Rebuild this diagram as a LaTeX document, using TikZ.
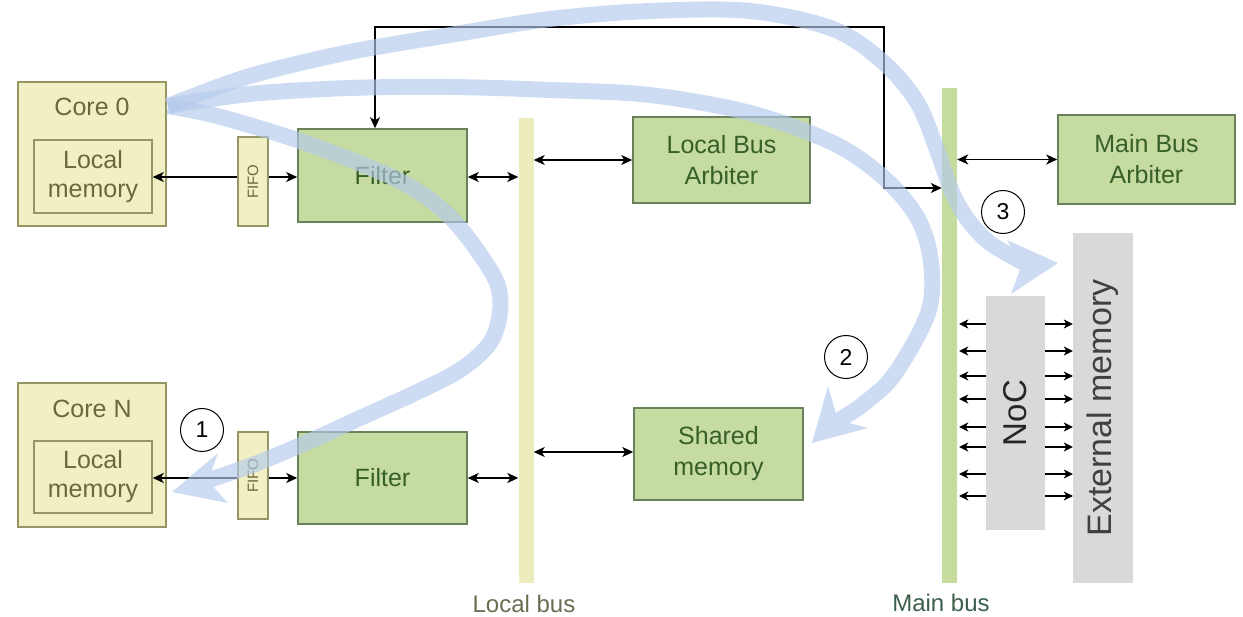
\documentclass[tikz,border=0pt]{standalone}
\usepackage{fontspec}
\setmainfont{Liberation Sans}
\usetikzlibrary{arrows.meta,calc}
\definecolor{corefill}{RGB}{240,240,196}
\definecolor{coreborder}{RGB}{150,150,100}
\definecolor{coretext}{RGB}{105,105,60}
\definecolor{greenfill}{RGB}{198,219,161}
\definecolor{greenborder}{RGB}{105,130,90}
\definecolor{greentext}{RGB}{55,95,40}
\definecolor{lbusfill}{RGB}{236,236,188}
\definecolor{mbusfill}{RGB}{198,219,158}
\definecolor{grayfill}{RGB}{217,217,217}
\definecolor{flowblue}{RGB}{180,202,236}
\definecolor{lbuslabel}{RGB}{105,110,80}
\definecolor{mbuslabel}{RGB}{60,95,75}
\begin{document}
\begin{tikzpicture}[x=1pt,y=-1pt,
  corebox/.style={draw=coreborder,fill=corefill,line width=1.5pt,inner sep=0pt},
  coretxt/.style={text=coretext,font=\fontsize{25}{29}\selectfont,align=center,inner sep=0pt},
  greenbox/.style={draw=greenborder,fill=greenfill,line width=1.5pt,inner sep=0pt,align=center,text=greentext,font=\fontsize{25}{31}\selectfont},
  fifobox/.style={draw=coreborder,fill=corefill,line width=1.3pt,inner sep=0pt,minimum width=30pt},
  busbar/.style={inner sep=0pt,minimum width=15pt},
  graybox/.style={fill=grayfill,inner sep=0pt},
  tipS/.tip={Stealth[length=11pt,width=10pt,inset=3pt]},
  arr/.style={line width=1.4pt,-tipS},
  biarr/.style={line width=1.4pt,tipS-tipS},
  smallarr/.style={line width=1.2pt,-{Stealth[length=9pt,width=9pt,inset=2.5pt]}},
  flow/.style={line width=16pt,draw=flowblue,line cap=butt},
  flowtip/.style={fill=flowblue},
  numcirc/.style={circle,draw,line width=1pt,minimum size=43pt,inner sep=0pt,font=\fontsize{23}{23}\selectfont},
  buslabel/.style={inner sep=0pt,font=\fontsize{24}{28}\selectfont}
]
\useasboundingbox (0,0) rectangle (1243,617);

% buses
\node[busbar,fill=lbusfill,minimum height=465pt] (lbus) at (526,350.5) {};
\node[busbar,fill=mbusfill,minimum height=495pt] (mbus) at (949.5,335.5) {};
\node[buslabel,text=lbuslabel] (lbuslbl) at (524,604) {Local bus};
\node[buslabel,text=mbuslabel] (mbuslbl) at (941,603) {Main bus};

% cores
\node[corebox,minimum width=148pt,minimum height=144pt] (core0) at (92,154) {};
\node[coretxt] (core0lbl) at (92,107) {Core 0};
\node[corebox,coretxt,minimum width=118pt,minimum height=73pt] (mem0) at (93,176.5) {Local\\memory};
\node[corebox,minimum width=148pt,minimum height=144pt] (coreN) at (92,455) {};
\node[coretxt] (coreNlbl) at (92,409) {Core N};
\node[corebox,coretxt,minimum width=118pt,minimum height=72pt] (memN) at (93,477) {Local\\memory};

% FIFOs
\node[fifobox,minimum height=89pt] (fifo0) at (253,181.5) {};
\node[rotate=90,text=coretext,font=\fontsize{15}{15}\selectfont,inner sep=0pt] at (fifo0.center) {FIFO};
\node[fifobox,minimum height=87pt] (fifoN) at (253,475.5) {};
\node[rotate=90,text=coretext,font=\fontsize{15}{15}\selectfont,inner sep=0pt] at (fifoN.center) {FIFO};

% green boxes
\node[greenbox,minimum width=169pt,minimum height=93pt] (filter0) at (382.5,175.5) {Filter};
\node[greenbox,minimum width=169pt,minimum height=92pt] (filterN) at (382.5,478) {Filter};
\node[greenbox,minimum width=177pt,minimum height=86pt] (lba) at (721.5,160) {Local Bus\\Arbiter};
\node[greenbox,minimum width=169pt,minimum height=92pt] (shmem) at (718.5,454) {Shared\\memory};
\node[greenbox,minimum width=177pt,minimum height=89pt] (mba) at (1146.5,159.5) {Main Bus\\Arbiter};

% gray boxes
\node[graybox,minimum width=59pt,minimum height=234pt] (noc) at (1015.5,413) {};
\node[rotate=90,font=\fontsize{33}{33}\selectfont,text=black!85,inner sep=0pt] at (noc.center) {NoC};
\node[graybox,minimum width=60pt,minimum height=350pt] (ext) at (1103,408) {};
\node[rotate=90,font=\fontsize{34}{34}\selectfont,text=black!75,inner sep=0pt] at (ext.center) {External memory};

% circles
\node[numcirc] (n1) at (202,430) {1};
\node[numcirc] (n2) at (846,357) {2};
\node[numcirc] (n3) at (1003,212) {3};

% black connectors
\draw[arr] (fifo0.west |- 0,177) -- (mem0.east |- 0,177);
\draw[arr] (fifo0.east |- 0,177) -- (filter0.west |- 0,177);
\draw[biarr] (filter0.east |- 0,177) -- (lbus.west |- 0,177);
\draw[biarr] (lbus.east |- lba.west) -- (lba.west);
\draw[biarr] (lbus.east |- 0,452) -- (shmem.west |- 0,452);
\draw[arr] (fifoN.west |- 0,478) -- (memN.east |- 0,478);
\draw[arr] (fifoN.east |- 0,478) -- (filterN.west |- 0,478);
\draw[biarr] (filterN.east |- 0,478) -- (lbus.west |- 0,478);
\draw[biarr] (mbus.east |- mba.west) -- (mba.west);
\coordinate (tl) at (375,27);
\coordinate (tr) at (884,27);
\coordinate (br) at (884,188);
\draw[biarr] ([xshift=-7.5pt]filter0.north) -- (tl) -- (tr) -- (br) -- (mbus.west |- br);

\foreach \yy in {324,351,376,399,427,447,474,496}{
  \draw[smallarr] (noc.west |- 0,\yy) -- ([xshift=2pt]mbus.east |- 0,\yy);
  \draw[smallarr] (noc.east |- 0,\yy) -- (ext.west |- 0,\yy);
}

% flows
\coordinate (flowsrc) at (168,106);
\begin{scope}[transparency group,opacity=0.65]
\draw[flow] plot[smooth,tension=0.55] coordinates {(flowsrc) (250,76) (350,52) (450,35) (550,19) (650,11) (750,11) (833,29) (883,62) (917,102) (937,150) (952,192) (968,220) (990,243) (1024,263)};
\fill[flowtip] (1058,263) -- (1007,240) -- (1022,264) -- (1011,294) -- cycle;
\end{scope}
\begin{scope}[transparency group,opacity=0.65]
\draw[flow] plot[smooth,tension=0.55] coordinates {(flowsrc) (250,94) (350,88) (450,87) (550,90) (650,95) (750,113) (833,143) (883,177) (917,217) (931,262) (928,313) (894,375) (862,405) (836,422)};
\fill[flowtip] (812,443) -- (828,386) -- (838,420) -- (868,428) -- cycle;
\end{scope}
\begin{scope}[transparency group,opacity=0.65]
\draw[flow] plot[smooth,tension=0.55] coordinates {(flowsrc) (217,116) (300,141) (383,173) (425,196) (453,220) (477,250) (497,283) (500,312) (490,343) (460,370) (413,394) (360,418) (310,441) (255,464) (206,481)};
\fill[flowtip] (172,492) -- (218,453) -- (208,481) -- (228,503) -- cycle;
\end{scope}
\end{tikzpicture}
\end{document}
